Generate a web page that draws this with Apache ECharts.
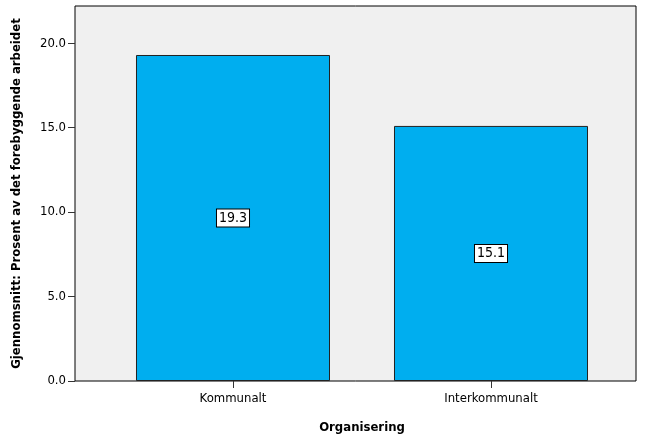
<!DOCTYPE html>
<html>
<head>
<meta charset="utf-8">
<script src="https://cdn.jsdelivr.net/npm/echarts@6/dist/echarts.min.js"></script>
<style>
  html, body { margin: 0; padding: 0; background: #fff; }
  #chart { width: 657px; height: 443px; }
</style>
</head>
<body>
<div id="chart"></div>
<script>
const categories = ['Kommunalt', 'Interkommunalt'];
const meanValues = [19.3, 15.1];
const yTicks = [0, 5, 10, 15, 20];

const font = '"DejaVu Sans Condensed", "Liberation Sans Narrow", sans-serif';
const chart = echarts.init(document.getElementById('chart'));

const yBase = {
  type: 'value',
  min: 0,
  max: 22.2,
  interval: 5
};

const option = {
  animation: false,
  grid: [
    {
      left: 75, right: 21, top: 6, bottom: 62,
      show: true, backgroundColor: '#f0f0f0', borderColor: '#000', borderWidth: 1
    },
    { left: 104, right: 37, top: 6, bottom: 62 }
  ],
  xAxis: [
    { gridIndex: 0, type: 'category', data: categories, show: false },
    {
      gridIndex: 1,
      type: 'category',
      data: categories,
      axisLine: { show: false },
      axisTick: { show: true, alignWithLabel: true, length: 7, lineStyle: { color: '#333' } },
      axisLabel: { color: '#000', fontFamily: font, fontSize: 13, margin: 11 },
      name: 'Organisering',
      nameLocation: 'middle',
      nameGap: 40,
      nameTextStyle: { color: '#000', fontFamily: font, fontSize: 13, fontWeight: 'bold' }
    }
  ],
  yAxis: [
    Object.assign({}, yBase, {
      gridIndex: 0,
      axisLine: { show: false },
      axisTick: { show: true, length: 7, customValues: yTicks, lineStyle: { color: '#333' } },
      splitLine: { show: false },
      axisLabel: {
        color: '#000', fontFamily: font, fontSize: 13, margin: 9,
        customValues: yTicks,
        formatter: (v) => v.toFixed(1)
      },
      name: 'Gjennomsnitt: Prosent av det forebyggende arbeidet',
      nameLocation: 'middle',
      nameGap: 52,
      nameTextStyle: { color: '#000', fontFamily: font, fontSize: 13, fontWeight: 'bold' }
    }),
    Object.assign({}, yBase, { gridIndex: 1, show: false, splitLine: { show: false } })
  ],
  series: [
    {
      type: 'bar',
      xAxisIndex: 1,
      yAxisIndex: 1,
      data: meanValues,
      barWidth: '75.2%',
      itemStyle: { color: '#00aeef', borderColor: '#222', borderWidth: 1 },
      label: {
        show: true,
        position: 'inside',
        formatter: (p) => p.value.toFixed(1),
        color: '#000',
        fontFamily: font,
        fontSize: 14,
        backgroundColor: '#fff',
        borderColor: '#000',
        borderWidth: 1,
        padding: [2, 2, 1, 2]
      }
    }
  ]
};

chart.setOption(option);
</script>
</body>
</html>
